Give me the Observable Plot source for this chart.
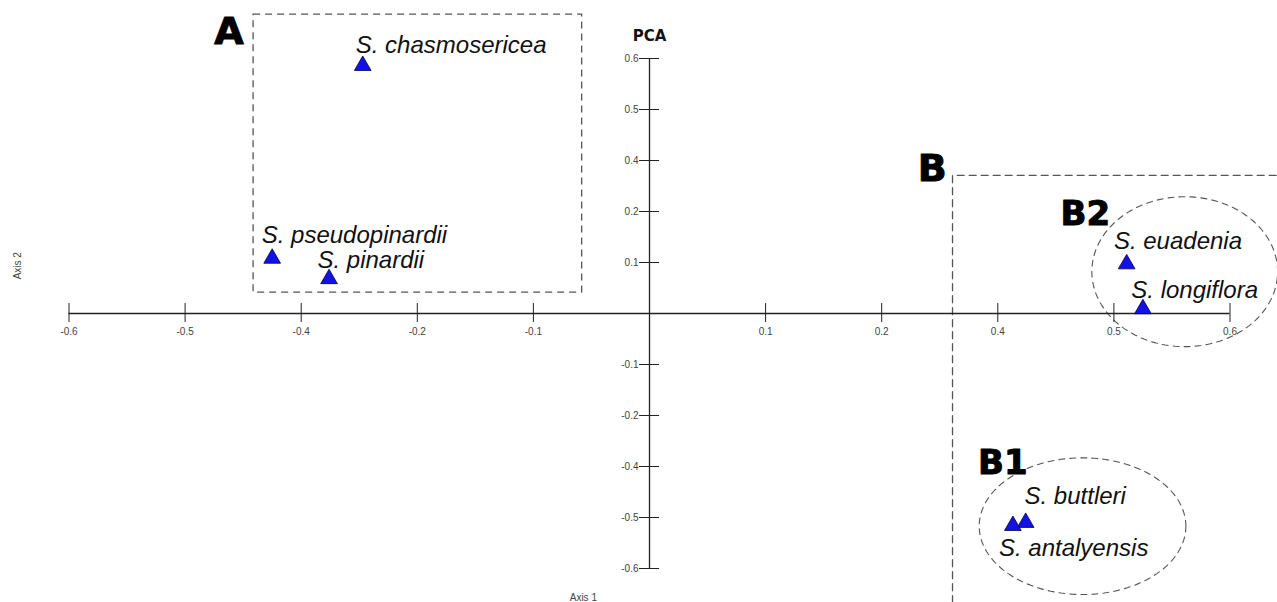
<!DOCTYPE html>
<html>
<head>
<meta charset="utf-8">
<script src="https://cdn.jsdelivr.net/npm/d3@7"></script>
<script src="https://cdn.jsdelivr.net/npm/@observablehq/plot@0.6"></script>
<style>
  html, body { margin: 0; padding: 0; background: #fff; overflow: hidden; }
</style>
</head>
<body>
<div id="chart"></div>
<script>
// ---- data (axis units as drawn: one tick step = 0.1) ----
const species = ["S. chasmosericea", "S. pseudopinardii", "S. pinardii", "S. euadenia", "S. longiflora", "S. buttleri", "S. antalyensis"];
const pc1 = [-0.247, -0.325, -0.276, 0.411, 0.425, 0.324, 0.313];
const pc2 = [0.486, 0.108, 0.068, 0.097, 0.009, -0.410, -0.416];
// label anchor points (data units)
const labelPC1 = [-0.253, -0.334, -0.286, 0.400, 0.415, 0.323, 0.301];
const labelPC2 = [0.510, 0.139, 0.090, 0.126, 0.031, -0.373, -0.475];

// axis ticks and their printed labels
const xTicks = [-0.5, -0.4, -0.3, -0.2, -0.1, 0.1, 0.2, 0.3, 0.4, 0.5];
const xTickLabels = ["-0.6", "-0.5", "-0.4", "-0.2", "-0.1", "0.1", "0.2", "0.4", "0.5", "0.6"];
const yTicks = [0.5, 0.4, 0.3, 0.2, 0.1, -0.1, -0.2, -0.3, -0.4, -0.5];
const yTickLabels = ["0.6", "0.5", "0.4", "0.2", "0.1", "-0.1", "-0.2", "-0.4", "-0.5", "-0.6"];

// group annotations
const groupNames = ["A", "B", "B2", "B1"];
const groupPC1 = [-0.375, 0.231, 0.354, 0.283];
const groupPC2 = [0.528, 0.259, 0.173, -0.315];
const boxA = {x1: -0.341, x2: -0.058, y1: 0.041, y2: 0.586};
const cornerB = [[0.261, -0.567], [0.261, 0.271], [0.542, 0.271]];
const ellipseB2 = {cx: 0.461, cy: 0.082, rx: 0.080, ry: 0.147};
const ellipseB1 = {cx: 0.373, cy: -0.417, rx: 0.089, ry: 0.134};

// ---- build tables ----
const points = species.map((s, i) => ({name: s, x: pc1[i], y: pc2[i], lx: labelPC1[i], ly: labelPC2[i]}));
const xt = xTicks.map((v, i) => ({v, t: xTickLabels[i]}));
const yt = yTicks.map((v, i) => ({v, t: yTickLabels[i]}));
const groups = groupNames.map((g, i) => ({g, x: groupPC1[i], y: groupPC2[i]}));
function ellipsePts(e) {
  return d3.range(0, 181).map(i => {
    const t = i / 180 * 2 * Math.PI;
    return [e.cx + e.rx * Math.cos(t), e.cy + e.ry * Math.sin(t)];
  });
}

const axisColor = "#222";
const dashColor = "#555";

const chart = Plot.plot({
  width: 1277,
  height: 602,
  marginLeft: 68.5,
  marginRight: 47.5,
  marginTop: 58,
  marginBottom: 34,
  x: {domain: [-0.5, 0.5], axis: null},
  y: {domain: [-0.5, 0.5], axis: null},
  style: {background: "#fff", fontFamily: "Liberation Sans, Arial, sans-serif", overflow: "hidden"},
  marks: [
    // group boxes & ellipses
    Plot.rect([boxA], {x1: "x1", x2: "x2", y1: "y1", y2: "y2", fill: "none", stroke: dashColor, strokeWidth: 1.3, strokeDasharray: "7,5"}),
    Plot.line(cornerB, {x: d => d[0], y: d => d[1], stroke: dashColor, strokeWidth: 1.3, strokeDasharray: "7,5"}),
    Plot.line(ellipsePts(ellipseB2), {x: d => d[0], y: d => d[1], stroke: dashColor, strokeWidth: 1.1, strokeDasharray: "6,5"}),
    Plot.line(ellipsePts(ellipseB1), {x: d => d[0], y: d => d[1], stroke: dashColor, strokeWidth: 1.1, strokeDasharray: "6,5"}),
    // axes through origin
    Plot.ruleY([0], {x1: -0.5, x2: 0.5, stroke: axisColor, strokeWidth: 1.3}),
    Plot.ruleX([0], {y1: -0.5, y2: 0.5, stroke: axisColor, strokeWidth: 1.3}),
    Plot.ruleX(xt, {x: "v", y1: 0, y2: 0, insetTop: -10, insetBottom: -9, stroke: axisColor, strokeWidth: 1}),
    Plot.ruleY(yt, {y: "v", x1: 0, x2: 0, insetLeft: -10, insetRight: -10, stroke: axisColor, strokeWidth: 1}),
    Plot.text(xt, {x: "v", y: 0, text: "t", dy: 18, fontSize: 10, fill: "#444"}),
    Plot.text(yt, {x: 0, y: "v", text: "t", dx: -11, textAnchor: "end", fontSize: 10, fill: "#444"}),
    // titles
    Plot.text(["PCA"], {x: 0, frameAnchor: "top", dy: -18, lineAnchor: "bottom", fontSize: 15, fontWeight: "bold", fontFamily: "DejaVu Sans", fill: "#111"}),
    Plot.text(["Axis 1"], {x: -0.057, frameAnchor: "bottom", dy: 32, lineAnchor: "bottom", fontSize: 10, fill: "#444"}),
    Plot.text(["Axis 2"], {y: 0.067, frameAnchor: "left", dx: -51, rotate: -90, fontSize: 10, fill: "#444"}),
    // points
    Plot.dot(points, {x: "x", y: "y", symbol: "triangle", r: 6.2, fill: "#1212e6", stroke: "#000040", strokeWidth: 0.8}),
    Plot.text(points, {x: "lx", y: "ly", text: "name", textAnchor: "start", lineAnchor: "bottom", fontSize: 24, fontStyle: "italic", fill: "#111"}),
    // group letters
    Plot.text(groups.filter(d => d.g.length === 1), {x: "x", y: "y", text: "g", textAnchor: "start", lineAnchor: "bottom", fontSize: 38, fontWeight: 900, fontFamily: "DejaVu Sans", fill: "#000", stroke: "#000", strokeWidth: 1}),
    Plot.text(groups.filter(d => d.g.length > 1), {x: "x", y: "y", text: "g", textAnchor: "start", lineAnchor: "bottom", fontSize: 34, fontWeight: 900, fontFamily: "DejaVu Sans", fill: "#000", stroke: "#000", strokeWidth: 1})
  ]
});
document.getElementById("chart").appendChild(chart);
</script>
</body>
</html>
